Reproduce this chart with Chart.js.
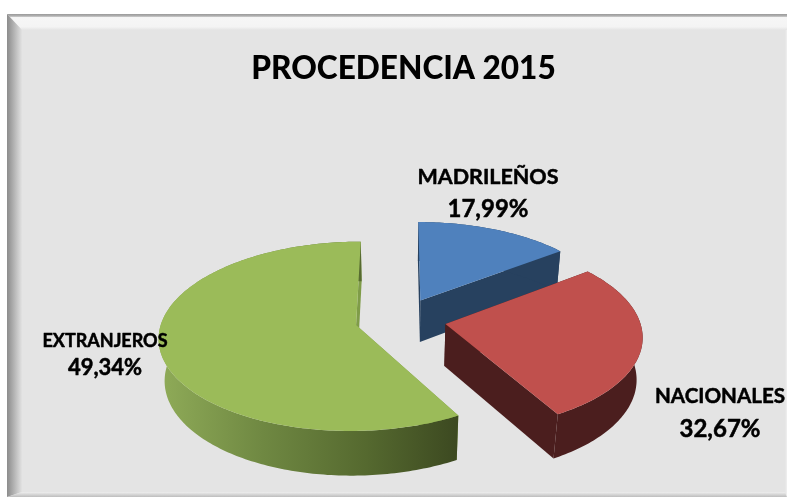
<!DOCTYPE html>
<html>
<head>
<meta charset="utf-8">
<title>Procedencia 2015</title>
<script src="https://cdn.jsdelivr.net/npm/chart.js@4"></script>
<style>
  html, body { margin: 0; padding: 0; background: #fff; overflow: hidden; }
  #wrap { width: 787px; height: 497px; }
</style>
</head>
<body>
<div id="wrap"><canvas id="myChart" width="787" height="497"></canvas></div>
<script>
const categories = ["MADRILEÑOS", "NACIONALES", "EXTRANJEROS"];
// the percentages printed on the reference
const printedPercents = ["17,99%", "32,67%", "49,34%"];
// the wedges in the reference do not follow the printed numbers,
// these shares are measured from the drawn slices
const drawnShares = [14.7, 27.1, 58.2];
const chartTitle = "PROCEDENCIA 2015";

const topColors = ["#4f81bd", "#c0504d", "#9bbb59"];
const wallColors = ["#27415f", "#4b1e1e", "#7f9c48"];
const labelSpots = [
  { x: 488, y: 177, y2: 209, nameSize: 21.5, valueSize: 24 },
  { x: 720, y: 396, y2: 429, nameSize: 20.6, valueSize: 24 },
  { x: 105, y: 341, y2: 368, nameSize: 18, valueSize: 22 },
];

// projection of the flat pie onto the tilted view
const CX = 400.5, CY = 319.5, RX = 194, RY = 92, DEPTH = 43, P = 0.118, Q = 0.025;
const EXPLODE = 42;

function project(u, v, z) {
  const w = 1 - P * v + Q * z;
  return [CX + (RX * u) / w, CY + (RY * v + DEPTH * z) / w];
}

function fillPoly(ctx, pts, fill) {
  ctx.beginPath();
  pts.forEach((p, i) => (i ? ctx.lineTo(p[0], p[1]) : ctx.moveTo(p[0], p[1])));
  ctx.closePath();
  ctx.fillStyle = fill;
  ctx.fill();
}

function drawSlice(ctx, arc, i) {
  const props = arc.getProps(["startAngle", "endAngle", "outerRadius"], true);
  const off = arc.options.offset / props.outerRadius;
  const mid = (props.startAngle + props.endAngle) / 2;
  const ax = Math.cos(mid) * off;
  const ay = Math.sin(mid) * off;

  const rim = [];
  const steps = Math.ceil(((props.endAngle - props.startAngle) * 180) / Math.PI);
  for (let s = 0; s <= steps; s++) {
    const a = props.startAngle + ((props.endAngle - props.startAngle) * s) / steps;
    rim.push([ax + Math.cos(a), ay + Math.sin(a)]);
  }
  const at = (z) => (p) => project(p[0], p[1], z);
  const apex = [ax, ay];

  // radial faces
  [rim[0], rim[rim.length - 1]].forEach((p) => {
    fillPoly(ctx, [apex, p].map(at(0)).concat([p, apex].map(at(1))), wallColors[i]);
  });

  // outer wall, the big slice gets the light to dark shading
  let wall = wallColors[i];
  if (i === 2) {
    wall = ctx.createLinearGradient(160, 0, 455, 0);
    wall.addColorStop(0, "#8fab58");
    wall.addColorStop(0.35, "#6f8842");
    wall.addColorStop(0.7, "#55692f");
    wall.addColorStop(1, "#3d4a21");
  }
  fillPoly(ctx, rim.map(at(0)).concat(rim.slice().reverse().map(at(1))), wall);

  // top face
  fillPoly(ctx, [apex].concat(rim).map(at(0)), topColors[i]);
}

const framePlugin = {
  id: "frame",
  beforeDraw(chart) {
    const ctx = chart.ctx;
    const L = 7, T = 14, IL = 22, IT = 30, R = 787, B = 497, IB = 492, IR = 785;
    ctx.save();
    ctx.fillStyle = "#e4e4e4";
    ctx.fillRect(L, T, R - L, B - T);

    let g = ctx.createLinearGradient(0, T, 0, IT);
    g.addColorStop(0, "#9a9a9a");
    g.addColorStop(0.14, "#b4b4b4");
    g.addColorStop(0.22, "#f6f6f6");
    g.addColorStop(0.8, "#f4f4f4");
    g.addColorStop(1, "#e4e4e4");
    fillPoly(ctx, [[L, T], [R, T], [R, IT], [IL, IT]], g);

    g = ctx.createLinearGradient(L, 0, IL, 0);
    g.addColorStop(0, "#8c8c8c");
    g.addColorStop(0.2, "#9c9c9c");
    g.addColorStop(1, "#e2e2e2");
    fillPoly(ctx, [[L, T], [IL, IT], [IL, IB], [L, B]], g);

    g = ctx.createLinearGradient(0, IB, 0, B);
    g.addColorStop(0, "#eeeeee");
    g.addColorStop(1, "#bdbdbd");
    fillPoly(ctx, [[IL, IB], [IR, IB], [R, B], [L, B]], g);

    g = ctx.createLinearGradient(IR, 0, R, 0);
    g.addColorStop(0, "#e4e4e4");
    g.addColorStop(1, "#f0f0f0");
    fillPoly(ctx, [[IR, IT], [R, IT], [R, B], [IR, IB]], g);
    ctx.restore();
  },
};

const pie3dPlugin = {
  id: "pie3d",
  beforeDatasetsDraw(chart) {
    const ctx = chart.ctx;
    const arcs = chart.getDatasetMeta(0).data;
    ctx.save();
    [0, 2, 1].forEach((i) => drawSlice(ctx, arcs[i], i));

    ctx.fillStyle = "#000";
    ctx.strokeStyle = "#000";
    ctx.lineWidth = 0.5;
    ctx.lineJoin = "round";
    ctx.textAlign = "center";
    ctx.textBaseline = "middle";
    categories.forEach((name, i) => {
      const spot = labelSpots[i];
      ctx.font = `bold ${spot.nameSize}px Lato`;
      ctx.fillText(name, spot.x, spot.y);
      ctx.strokeText(name, spot.x, spot.y);
      ctx.font = `bold ${spot.valueSize}px Lato`;
      ctx.fillText(printedPercents[i], spot.x, spot.y2);
      ctx.strokeText(printedPercents[i], spot.x, spot.y2);
    });
    ctx.restore();
    return false;
  },
};

const ctx = document.getElementById("myChart").getContext("2d");
const myChart = new Chart(ctx, {
  type: "pie",
  data: {
    labels: categories,
    datasets: [
      {
        data: drawnShares,
        backgroundColor: topColors,
        offset: EXPLODE,
        borderWidth: 0,
      },
    ],
  },
  options: {
    responsive: false,
    animation: false,
    rotation: 0,
    layout: { padding: { left: 20, top: 48 } },
    plugins: {
      legend: { display: false },
      tooltip: { enabled: false },
      title: {
        display: true,
        text: chartTitle,
        color: "#000",
        font: { family: "Lato", size: 31.6, weight: "900" },
        padding: { top: 2, bottom: 10 },
      },
    },
  },
  plugins: [framePlugin, pie3dPlugin],
});
</script>
</body>
</html>
